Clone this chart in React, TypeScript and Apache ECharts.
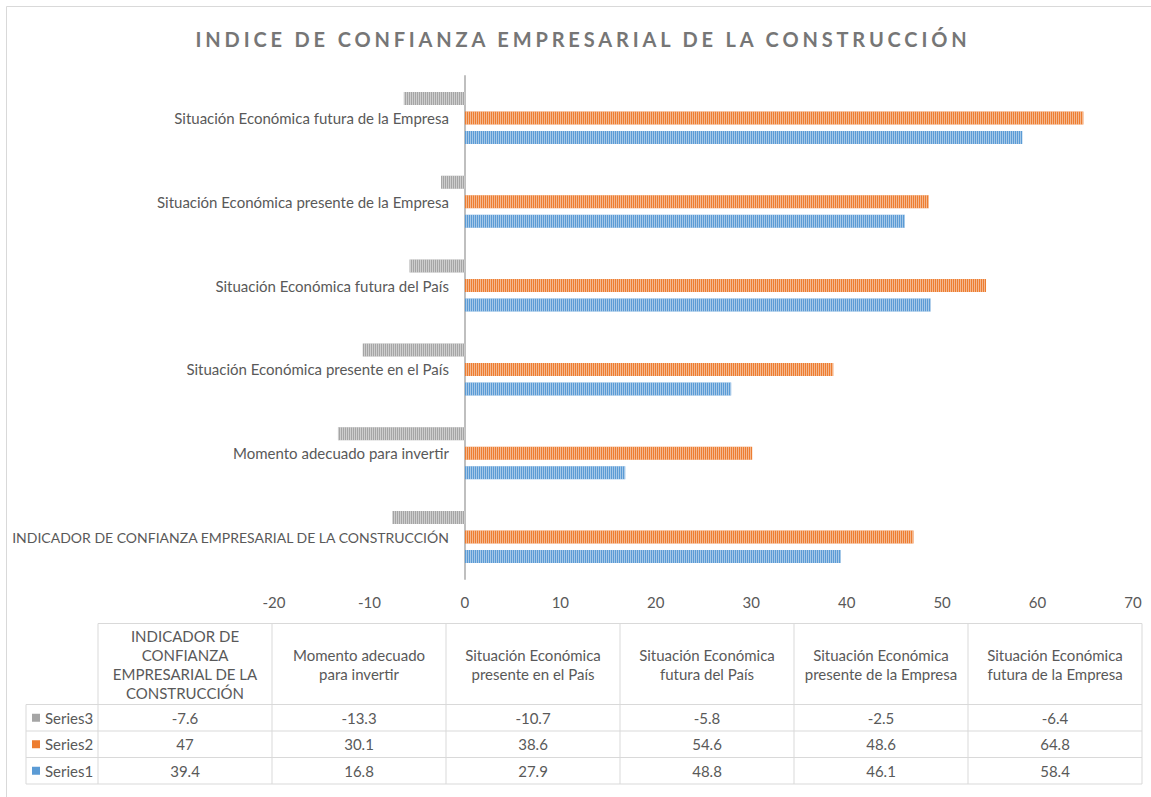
import React, { useEffect, useRef } from "react";
import * as echarts from "echarts";

const chartTitle = "INDICE DE CONFIANZA EMPRESARIAL DE LA CONSTRUCCIÓN";
const categories = [
  "INDICADOR DE CONFIANZA EMPRESARIAL DE LA CONSTRUCCIÓN",
  "Momento adecuado para invertir",
  "Situación Económica presente en el País",
  "Situación Económica futura del País",
  "Situación Económica presente de la Empresa",
  "Situación Económica futura de la Empresa",
];
const tableHeaders = [
  "INDICADOR DE\nCONFIANZA\nEMPRESARIAL DE LA\nCONSTRUCCIÓN",
  "Momento adecuado\npara invertir",
  "Situación Económica\npresente en el País",
  "Situación Económica\nfutura del País",
  "Situación Económica\npresente de la Empresa",
  "Situación Económica\nfutura de la Empresa",
];
const series1 = [39.4, 16.8, 27.9, 48.8, 46.1, 58.4];
const series2 = [47, 30.1, 38.6, 54.6, 48.6, 64.8];
const series3 = [-7.6, -13.3, -10.7, -5.8, -2.5, -6.4];
const seriesNames = ["Series1", "Series2", "Series3"];
const xMin = -20;
const xMax = 70;
const xInterval = 10;

const COLORS = ["#5b9bd5", "#ed7d31", "#a5a5a5"];
const TEXT = "#595959";
const FONT = "Lato";
const LINE = "#d9d9d9";
const FS = 15;
const GRID_LEFT = 274;

export default function App() {
  const ref = useRef<HTMLDivElement>(null);
  useEffect(() => {
    if (!ref.current) return;
    const chart = echarts.init(ref.current, undefined, { renderer: "svg" });
    const values = [series1, series2, series3];

    const decal = {
      symbol: "rect",
      symbolSize: 1,
      dashArrayX: [1, 1],
      dashArrayY: [4, 0],
      color: "rgba(255,255,255,0.45)",
      rotation: 0,
    };

    // table
    const tLeft = 26;
    const cLeft = 98;
    const colW = 174;
    const hTop = 623.5;
    const hBot = 704.5;
    const rowH = 26.5;
    const tRight = cLeft + colW * categories.length;
    const tBot = hBot + rowH * 3;
    const g: any[] = [];
    g.push({
      type: "rect",
      shape: { x: 6.5, y: 6.5, width: 1300, height: 1000 },
      style: { fill: "none", stroke: LINE, lineWidth: 1 },
      silent: true,
    });
    g.push({
      type: "text",
      x: 583,
      y: 39,
      style: {
        text: chartTitle,
        align: "center",
        verticalAlign: "middle",
        fontSize: 20,
        fontWeight: "bold",
        fontFamily: FONT,
        fill: "#767676",
      },
    });
    const hl = (x1: number, x2: number, y: number) =>
      g.push({ type: "line", shape: { x1, y1: y, x2, y2: y }, style: { stroke: LINE, lineWidth: 1 } });
    const vl = (x: number, y1: number, y2: number) =>
      g.push({ type: "line", shape: { x1: x, y1, x2: x, y2 }, style: { stroke: LINE, lineWidth: 1 } });
    hl(cLeft, tRight, hTop);
    for (let r = 0; r <= 3; r++) hl(tLeft, tRight, hBot + r * rowH);
    vl(tLeft, hBot, tBot);
    for (let i = 0; i <= categories.length; i++) vl(cLeft + i * colW, hTop, tBot);
    tableHeaders.forEach((h, i) => {
      g.push({
        type: "text",
        x: cLeft + i * colW + colW / 2,
        y: (hTop + hBot) / 2,
        style: {
          text: h,
          align: "center",
          verticalAlign: "middle",
          fontSize: FS,
          lineHeight: 19,
          fontFamily: FONT,
          fill: TEXT,
        },
      });
    });
    [2, 1, 0].forEach((si, r) => {
      const cy = hBot + r * rowH + rowH / 2;
      g.push({
        type: "rect",
        shape: { x: 32, y: cy - 4, width: 8, height: 8 },
        style: { fill: COLORS[si] },
      });
      g.push({
        type: "text",
        x: 45,
        y: cy,
        style: { text: seriesNames[si], align: "left", verticalAlign: "middle", fontSize: FS, fontFamily: FONT, fill: TEXT },
      });
      values[si].forEach((v, i) => {
        g.push({
          type: "text",
          x: cLeft + i * colW + colW / 2,
          y: cy,
          style: { text: String(v), align: "center", verticalAlign: "middle", fontSize: FS, fontFamily: FONT, fill: TEXT },
        });
      });
    });

    const yLabel = (margin: number) => ({
      color: TEXT,
      fontSize: FS,
      fontFamily: FONT,
      margin,
      formatter: (v: string) => (v === categories[0] ? `{u|${v}}` : v),
      rich: { u: { fontSize: 14, fontFamily: FONT, color: TEXT } },
    });

    chart.setOption({
      animation: false,
      backgroundColor: "#ffffff",
      grid: { left: GRID_LEFT, right: 18, top: 76, bottom: 218, containLabel: false, outerBoundsMode: "none" },
      xAxis: {
        type: "value",
        min: xMin,
        max: xMax,
        interval: xInterval,
        axisLine: { show: false },
        axisTick: { show: false },
        splitLine: { show: false },
        axisLabel: { color: TEXT, fontSize: FS, fontFamily: FONT, margin: 15 },
      },
      yAxis: {
        type: "category",
        data: categories,
        axisLine: { show: true, onZero: true, lineStyle: { color: "#bfbfbf", width: 2 } },
        axisTick: { show: false },
        axisLabel: yLabel(16),
      },
      series: [2, 1, 0].map((si) => ({
        name: seriesNames[si],
        type: "bar",
        data: values[si],
        barWidth: 13,
        barGap: "50%",
        itemStyle: { color: COLORS[si], decal: { ...decal } },
      })),
      graphic: g,
    });

    // move category labels next to the zero line
    const x0 = chart.convertToPixel({ xAxisIndex: 0 }, 0) as number;
    chart.setOption({ yAxis: { axisLabel: yLabel(16 - (x0 - GRID_LEFT)) } });

    // letter spacing for the title
    try {
      const cv = document.createElement("canvas");
      const ctx = cv.getContext("2d")!;
      ctx.font = `bold 20px ${FONT}`;
      const w = ctx.measureText(chartTitle).width;
      const ls = Math.max(0, (773 - w) / (chartTitle.length - 1));
      ref.current.querySelectorAll("text").forEach((t) => {
        if (t.textContent === chartTitle) (t as any).style.letterSpacing = ls + "px";
      });
    } catch (e) {}

    return () => chart.dispose();
  }, []);
  return (
    <div
      ref={ref}
      style={{ position: "fixed", left: 0, top: 0, width: 1151, height: 797, background: "#fff" }}
    />
  );
}
